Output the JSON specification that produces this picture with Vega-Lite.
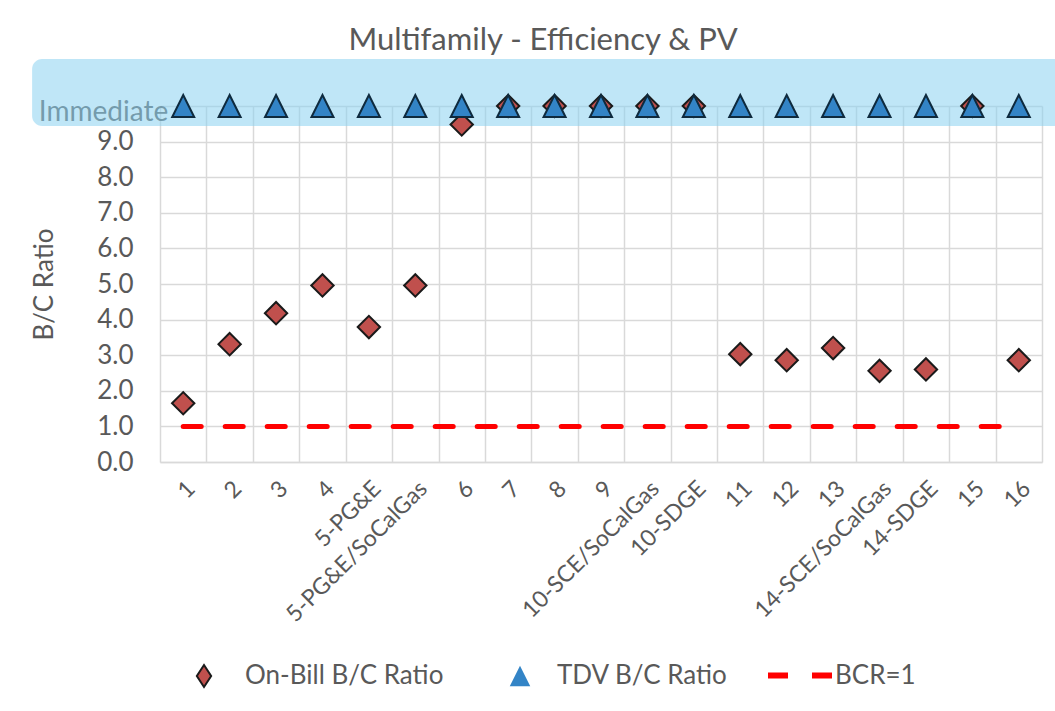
{
  "$schema": "https://vega.github.io/schema/vega-lite/v6.json",
  "width": 882,
  "height": 356,
  "autosize": "none",
  "padding": {"left": 160, "top": 106, "right": 13, "bottom": 249},
  "background": "white",
  "config": {"font": "Lato", "view": {"stroke": null}, "legend": {"padding": 0}, "axisY": {"labelOverlap": false}},
  "title": {
    "text": "Multifamily - Efficiency & PV",
    "fontSize": 31,
    "fontWeight": "normal",
    "color": "#595959",
    "anchor": "middle",
    "frame": "group",
    "dx": -58,
    "offset": 2
  },
  "data": {
    "values": [
      {"cat": "1", "series": "On-Bill B/C Ratio", "value": 1.65},
      {"cat": "2", "series": "On-Bill B/C Ratio", "value": 3.31},
      {"cat": "3", "series": "On-Bill B/C Ratio", "value": 4.18},
      {"cat": "4", "series": "On-Bill B/C Ratio", "value": 4.96},
      {"cat": "5-PG&E", "series": "On-Bill B/C Ratio", "value": 3.79},
      {"cat": "5-PG&E/SoCalGas", "series": "On-Bill B/C Ratio", "value": 4.96},
      {"cat": "6", "series": "On-Bill B/C Ratio", "value": 9.48},
      {"cat": "7", "series": "On-Bill B/C Ratio", "value": 10},
      {"cat": "8", "series": "On-Bill B/C Ratio", "value": 10},
      {"cat": "9", "series": "On-Bill B/C Ratio", "value": 10},
      {"cat": "10-SCE/SoCalGas", "series": "On-Bill B/C Ratio", "value": 10},
      {"cat": "10-SDGE", "series": "On-Bill B/C Ratio", "value": 10},
      {"cat": "11", "series": "On-Bill B/C Ratio", "value": 3.03},
      {"cat": "12", "series": "On-Bill B/C Ratio", "value": 2.86},
      {"cat": "13", "series": "On-Bill B/C Ratio", "value": 3.2},
      {"cat": "14-SCE/SoCalGas", "series": "On-Bill B/C Ratio", "value": 2.56},
      {"cat": "14-SDGE", "series": "On-Bill B/C Ratio", "value": 2.6},
      {"cat": "15", "series": "On-Bill B/C Ratio", "value": 10},
      {"cat": "16", "series": "On-Bill B/C Ratio", "value": 2.86},
      {"cat": "1", "series": "TDV B/C Ratio", "value": 10},
      {"cat": "2", "series": "TDV B/C Ratio", "value": 10},
      {"cat": "3", "series": "TDV B/C Ratio", "value": 10},
      {"cat": "4", "series": "TDV B/C Ratio", "value": 10},
      {"cat": "5-PG&E", "series": "TDV B/C Ratio", "value": 10},
      {"cat": "5-PG&E/SoCalGas", "series": "TDV B/C Ratio", "value": 10},
      {"cat": "6", "series": "TDV B/C Ratio", "value": 10},
      {"cat": "7", "series": "TDV B/C Ratio", "value": 10},
      {"cat": "8", "series": "TDV B/C Ratio", "value": 10},
      {"cat": "9", "series": "TDV B/C Ratio", "value": 10},
      {"cat": "10-SCE/SoCalGas", "series": "TDV B/C Ratio", "value": 10},
      {"cat": "10-SDGE", "series": "TDV B/C Ratio", "value": 10},
      {"cat": "11", "series": "TDV B/C Ratio", "value": 10},
      {"cat": "12", "series": "TDV B/C Ratio", "value": 10},
      {"cat": "13", "series": "TDV B/C Ratio", "value": 10},
      {"cat": "14-SCE/SoCalGas", "series": "TDV B/C Ratio", "value": 10},
      {"cat": "14-SDGE", "series": "TDV B/C Ratio", "value": 10},
      {"cat": "15", "series": "TDV B/C Ratio", "value": 10},
      {"cat": "16", "series": "TDV B/C Ratio", "value": 10},
      {"cat": "1", "series": "BCR=1", "value": 1},
      {"cat": "2", "series": "BCR=1", "value": 1},
      {"cat": "3", "series": "BCR=1", "value": 1},
      {"cat": "4", "series": "BCR=1", "value": 1},
      {"cat": "5-PG&E", "series": "BCR=1", "value": 1},
      {"cat": "5-PG&E/SoCalGas", "series": "BCR=1", "value": 1},
      {"cat": "6", "series": "BCR=1", "value": 1},
      {"cat": "7", "series": "BCR=1", "value": 1},
      {"cat": "8", "series": "BCR=1", "value": 1},
      {"cat": "9", "series": "BCR=1", "value": 1},
      {"cat": "10-SCE/SoCalGas", "series": "BCR=1", "value": 1},
      {"cat": "10-SDGE", "series": "BCR=1", "value": 1},
      {"cat": "11", "series": "BCR=1", "value": 1},
      {"cat": "12", "series": "BCR=1", "value": 1},
      {"cat": "13", "series": "BCR=1", "value": 1},
      {"cat": "14-SCE/SoCalGas", "series": "BCR=1", "value": 1},
      {"cat": "14-SDGE", "series": "BCR=1", "value": 1},
      {"cat": "15", "series": "BCR=1", "value": 1},
      {"cat": "16", "series": "BCR=1", "value": 1}
    ]
  },
  "layer": [
    {
      "data": {"values": [{"cat": "1", "label": "Immediate", "value": 10}]},
      "mark": {"type": "text", "align": "right", "baseline": "middle", "dx": -15, "dy": 7, "fontSize": 28, "color": "#595959"},
      "encoding": {
        "x": {
          "field": "cat",
          "type": "nominal",
          "scale": {"domain": ["1", "2", "3", "4", "5-PG&E", "5-PG&E/SoCalGas", "6", "7", "8", "9", "10-SCE/SoCalGas", "10-SDGE", "11", "12", "13", "14-SCE/SoCalGas", "14-SDGE", "15", "16"], "paddingInner": 0, "paddingOuter": 0},
          "axis": null
        },
        "y": {"field": "value", "type": "quantitative", "scale": {"domain": [0, 10]}, "axis": null},
        "text": {"field": "label"}
      }
    },
    {
      "data": {"values": [{"band": "Immediate"}]},
      "mark": {"type": "rect", "fill": "#8AD2F0", "fillOpacity": 0.55, "cornerRadius": 10},
      "encoding": {
        "x": {"datum": -0.145, "type": "quantitative", "scale": {"domain": [0, 1]}, "axis": null},
        "x2": {"datum": 1.03},
        "y": {"datum": 9.44, "type": "quantitative", "scale": {"domain": [0, 10]}, "axis": null},
        "y2": {"datum": 11.32}
      }
    },
    {
      "encoding": {
        "x": {
          "field": "cat",
          "type": "nominal",
          "sort": ["1", "2", "3", "4", "5-PG&E", "5-PG&E/SoCalGas", "6", "7", "8", "9", "10-SCE/SoCalGas", "10-SDGE", "11", "12", "13", "14-SCE/SoCalGas", "14-SDGE", "15", "16"],
          "scale": {"paddingInner": 0, "paddingOuter": 0},
          "axis": {
            "title": null,
            "labelAngle": -45,
            "labelFontSize": 23,
            "labelColor": "#595959",
            "labelPadding": 15,
            "labelLimit": 400,
            "labelOverlap": false,
            "ticks": false,
            "tickSize": 0,
            "tickBand": "extent",
            "grid": true,
            "gridColor": "#D9D9D9",
            "gridWidth": 1.5,
            "domainColor": "#D9D9D9",
            "domainWidth": 1.5
          }
        },
        "y": {
          "field": "value",
          "type": "quantitative",
          "scale": {"domain": [0, 10]},
          "axis": {
            "values": [0, 1, 2, 3, 4, 5, 6, 7, 8, 9, 10],
            "labelExpr": "datum.value == 10 ? '' : format(datum.value, '.1f')",
            "labelOverlap": false,
            "title": "B/C Ratio",
            "titleFontSize": 26,
            "titleFontWeight": "normal",
            "titleColor": "#595959",
            "titleX": -103,
            "labelFontSize": 26,
            "labelColor": "#595959",
            "labelPadding": 27,
            "ticks": false,
            "tickSize": 0,
            "domain": false,
            "grid": true,
            "gridColor": "#D9D9D9",
            "gridWidth": 1.5
          }
        }
      },
      "layer": [
        {
          "transform": [{"filter": "datum.series === 'BCR=1'"}],
          "mark": {"type": "line", "strokeWidth": 5, "strokeDash": [18, 24], "strokeCap": "round"},
          "encoding": {
            "stroke": {
              "field": "series",
              "type": "nominal",
              "scale": {"domain": ["BCR=1"], "range": ["#FF0000"]},
              "legend": {
                "orient": "none",
                "legendX": 605,
                "legendY": 533,
                "title": null,
                "labelFontSize": 26,
                "labelColor": "#595959",
                "labelOffset": -3,
                "labelLimit": 400,
                "symbolType": "stroke",
                "symbolSize": 4489,
                "symbolStrokeWidth": 6,
                "symbolDash": [20, 24],
                "symbolStrokeColor": "#FF0000"
              }
            }
          }
        },
        {
          "transform": [{"filter": "datum.series === 'On-Bill B/C Ratio'"}],
          "mark": {"type": "point", "filled": true, "shape": "diamond", "size": 500, "stroke": "#1A1A1A", "strokeWidth": 2, "opacity": 1},
          "encoding": {
            "fill": {
              "field": "series",
              "type": "nominal",
              "scale": {"domain": ["On-Bill B/C Ratio"], "range": ["#C0504D"]},
              "legend": {
                "orient": "none",
                "legendX": 31,
                "legendY": 557,
                "title": null,
                "labelFontSize": 26,
                "labelColor": "#595959",
                "labelOffset": 28,
                "labelLimit": 400,
                "symbolType": "M0,-1L0.65,0L0,1L-0.65,0Z",
                "symbolSize": 484,
                "symbolStrokeColor": "#1A1A1A",
                "symbolStrokeWidth": 2,
                "symbolOpacity": 1
              }
            }
          }
        },
        {
          "transform": [{"filter": "datum.series === 'TDV B/C Ratio'"}],
          "mark": {"type": "point", "filled": true, "shape": "M0,-1L1,1L-1,1Z", "size": 484, "stroke": "#0E2A3E", "strokeWidth": 2, "opacity": 1},
          "encoding": {
            "shape": {
              "field": "series",
              "type": "nominal",
              "scale": {"domain": ["TDV B/C Ratio"], "range": ["M0,-1L1,1L-1,1Z"]},
              "legend": {
                "orient": "none",
                "legendX": 347,
                "legendY": 557,
                "title": null,
                "labelFontSize": 26,
                "labelColor": "#595959",
                "labelOffset": 24,
                "labelLimit": 400,
                "symbolSize": 420,
                "symbolFillColor": "#3384C6",
                "symbolStrokeColor": "#0E2A3E",
                "symbolStrokeWidth": 2,
                "symbolOpacity": 1
              }
            },
            "fill": {"value": "#3384C6"}
          }
        }
      ],
      "resolve": {"scale": {"fill": "independent", "stroke": "independent", "shape": "independent"}, "legend": {"fill": "independent", "stroke": "independent", "shape": "independent"}}
    }
  ],
  "resolve": {"scale": {"x": "independent", "y": "independent"}}
}
